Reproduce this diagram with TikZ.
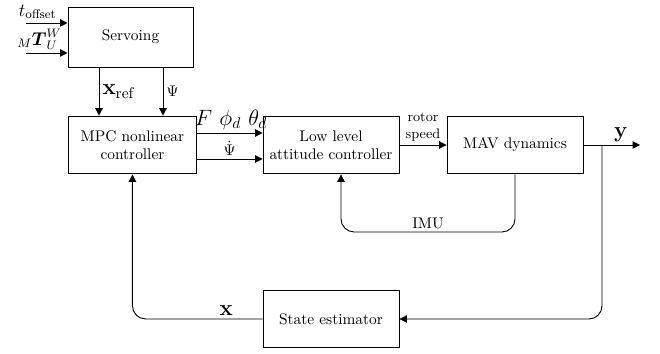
\documentclass[tikz,border=0pt]{standalone}
\usepackage{amsmath}
\usepackage{amssymb}
\usepackage{tikz}
\usetikzlibrary{calc,arrows.meta}

\tikzset{
  block/.style={draw, semithick, minimum width=3.1cm, minimum height=1.32cm, align=center},
  sig/.style={semithick, -{Triangle[length=1.7mm,width=1.7mm]}},
  line/.style={semithick, rounded corners=0.3cm, -{Triangle[length=1.7mm,width=1.7mm]}}
}

\begin{document}
\begin{tikzpicture}
    \useasboundingbox (0,0) rectangle (15.048,-8.071);
    \pgfmathsetmacro{\yb}{-3.306}
    \pgfmathsetmacro{\xbr}{13.726}
    % blocks
    \node[block, minimum width=2.85cm, minimum height=1.37cm] (servo) at (2.975,-0.844) {Servoing};
    \node[block, minimum width=2.9cm] (mpc) at (3.02,\yb) {MPC nonlinear\\controller};
    \node[block] (low) at (7.547,\yb) {Low level\\attitude controller};
    \node[block] (mav) at (11.742,\yb) {MAV dynamics};
    \node[block] (est) at (7.547,-7.273) {State estimator};
    % inputs of servoing
    \coordinate (tin) at (0.593,-0.524);
    \coordinate (tin2) at (0.593,-1.208);
    \draw[sig] (tin) -- (tin -| servo.west);
    \draw[sig] (tin2) -- (tin2 -| servo.west);
    \node[anchor=base, font=\large, inner sep=0pt] (toff) at (0.86,-0.37) {$t_{\text{offset}}$};
    \node[anchor=base, font=\large, inner sep=0pt] (tuw) at (0.9,-1.03) {${}_M\boldsymbol{T}_U^W$};
    % servoing to mpc
    \draw[sig] (2.257,0 |- servo.south) -- (2.257,0 |- mpc.north)
      node[midway, right, font=\Large, inner sep=2pt] {$\mathbf{x}_{\text{ref}}$};
    \draw[sig] (3.716,0 |- servo.south) -- (3.716,0 |- mpc.north)
      node[midway, right, inner sep=2pt] {$\Psi$};
    % mpc to low level
    \draw[sig] (mpc.east |- 0,-3.032) -- (low.west |- 0,-3.032);
    \node[anchor=base, font=\Large, inner sep=0pt] (fphi) at (5.27,-2.86) {$F\ \phi_d\ \theta_d$};
    \draw[sig] (mpc.east |- 0,-3.625) -- (low.west |- 0,-3.625)
      node[midway, above, inner sep=2pt] {$\dot{\Psi}$};
    % low level to mav
    \draw[sig] (low) -- (mav)
      node[midway, above, align=center, font=\small, inner sep=2pt] {rotor\\speed};
    % output
    \coordinate (yend) at (14.592,\yb);
    \draw[sig] (mav) -- (yend)
      node[pos=0.66, above, font=\Large, inner sep=2pt] {$\mathbf{y}$};
    \draw[line] (\xbr,\yb) |- (est);
    % imu loop
    \draw[line] (mav.south) |- (7.775,-5.29)
      node[pos=0.75, above, inner sep=2pt] {IMU} -- (7.775,0 |- low.south);
    % estimator to mpc
    \draw[line] (est.west) -| (mpc.south)
      node[pos=0.14, above, font=\Large, inner sep=2pt] {$\mathbf{x}$};
\end{tikzpicture}
\end{document}
